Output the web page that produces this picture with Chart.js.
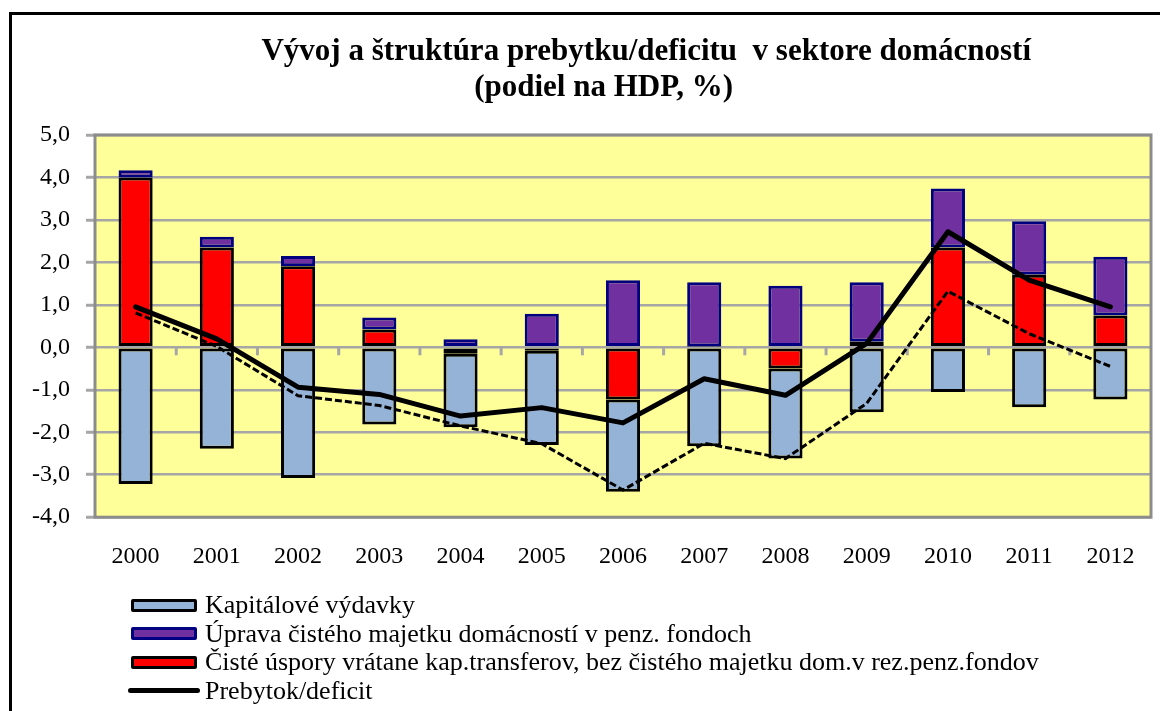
<!DOCTYPE html>
<html lang="sk">
<head>
<meta charset="utf-8">
<title>Vývoj a štruktúra prebytku/deficitu v sektore domácností</title>
<script src="https://cdn.jsdelivr.net/npm/chart.js@4/dist/chart.umd.min.js"></script>
<style>
    html, body {
        margin: 0;
        padding: 0;
        background: #ffffff;
        overflow: hidden;
    }
    .frame {
        position: absolute;
        left: 9px;
        top: 12px;
        width: 1200px;
        height: 800px;
        border: 3px solid #000000;
    }
    .chart-box {
        position: absolute;
        left: 0;
        top: 0;
        width: 1160px;
        height: 711px;
    }
    #legend {
        position: absolute;
        left: 128px;
        top: 591px;
        margin: 0;
        padding: 0;
        list-style: none;
        font-family: 'Liberation Serif', 'Times New Roman', serif;
        font-size: 26px;
        color: #000000;
    }
    #legend li {
        display: flex;
        align-items: center;
        height: 28.5px;
        white-space: nowrap;
    }
    #legend .key {
        display: inline-block;
        box-sizing: border-box;
        margin-right: 5px;
    }
    #legend .key.bar {
        width: 66px;
        height: 13px;
        margin-left: 3px;
        margin-right: 8px;
        border: 3px solid #000000;
        border-radius: 2px;
    }
    #legend .key.line {
        width: 72px;
        height: 5px;
        border-radius: 3px;
        margin-right: 5px;
    }
</style>
</head>
<body>
<div class="frame"></div>
<div class="chart-box"><canvas id="householdChart"></canvas></div>
<ul id="legend"></ul>
<script>
// Data (share of GDP, %)
const years = ['2000', '2001', '2002', '2003', '2004', '2005', '2006', '2007', '2008', '2009', '2010', '2011', '2012'];
const netSavings = [4.0, 2.35, 1.91, 0.42, -0.15, -0.08, -1.23, 0.02, -0.5, 0.13, 2.35, 1.71, 0.75];
const capitalSpending = [-3.22, -2.39, -3.08, -1.82, -1.73, -2.22, -2.17, -2.33, -2.12, -1.53, -1.05, -1.41, -1.23];
const pensionAdjustment = [0.17, 0.25, 0.24, 0.28, 0.19, 0.79, 1.58, 1.51, 1.45, 1.4, 1.39, 1.26, 1.38];
const surplusDeficit = [0.95, 0.2, -0.94, -1.11, -1.62, -1.42, -1.78, -0.74, -1.13, 0.09, 2.72, 1.58, 0.95];
const surplusDashed = [0.81, 0.02, -1.14, -1.37, -1.85, -2.27, -3.36, -2.26, -2.62, -1.32, 1.32, 0.32, -0.45];

const yMin = -4;
const yMax = 5;

// legend shows datasets in this order (dashed line has no entry)
const legendOrder = [1, 2, 0, 3];

const serif = "'Liberation Serif', 'Times New Roman', serif";
const gridGray = '#a6a6a6';

function formatTick(value) {
    return value.toFixed(1).replace('.', ',');
}

// yellow plot area, gray frame and the little category ticks on the zero line
const plotArea = {
    id: 'plotArea',
    beforeDraw(chart) {
        const { ctx, chartArea } = chart;
        ctx.save();
        ctx.fillStyle = '#ffff99';
        ctx.fillRect(chartArea.left, chartArea.top, chartArea.width, chartArea.height);
        ctx.restore();
    },
    beforeDatasetsDraw(chart) {
        const { ctx, chartArea, scales } = chart;
        const x = scales.x;
        const zeroY = scales.y.getPixelForValue(0);
        ctx.save();
        ctx.strokeStyle = gridGray;
        ctx.lineWidth = 3;
        for (let i = 1; i < years.length; i++) {
            const mid = (x.getPixelForTick(i - 1) + x.getPixelForTick(i)) / 2;
            ctx.beginPath();
            ctx.moveTo(mid, zeroY);
            ctx.lineTo(mid, zeroY + 8);
            ctx.stroke();
        }
        ctx.strokeStyle = '#8c8c8c';
        ctx.lineWidth = 3;
        ctx.strokeRect(chartArea.left, chartArea.top, chartArea.width, chartArea.height);
        ctx.restore();
    }
};

// one legend entry per line, built from the chart's own labels
const htmlLegend = {
    id: 'htmlLegend',
    afterUpdate(chart) {
        const list = document.getElementById('legend');
        list.innerHTML = '';
        const items = chart.options.plugins.legend.labels.generateLabels(chart)
            .filter(item => legendOrder.includes(item.datasetIndex))
            .sort((a, b) => legendOrder.indexOf(a.datasetIndex) - legendOrder.indexOf(b.datasetIndex));

        items.forEach(item => {
            const dataset = chart.data.datasets[item.datasetIndex];
            const li = document.createElement('li');
            const key = document.createElement('span');
            if (dataset.type === 'line') {
                key.className = 'key line';
                key.style.background = dataset.borderColor;
            } else {
                key.className = 'key bar';
                key.style.background = item.fillStyle;
                key.style.borderColor = item.strokeStyle;
            }
            const text = document.createElement('span');
            text.textContent = item.text;
            li.appendChild(key);
            li.appendChild(text);
            list.appendChild(li);
        });
    }
};

const ctx = document.getElementById('householdChart').getContext('2d');
new Chart(ctx, {
    data: {
        labels: years,
        datasets: [
            {
                type: 'bar',
                label: 'Čisté úspory vrátane kap.transferov, bez čistého majetku dom.v rez.penz.fondov',
                data: netSavings,
                backgroundColor: '#ff0000',
                borderColor: '#000000',
                stack: 'bars',
                order: 2
            },
            {
                type: 'bar',
                label: 'Kapitálové výdavky',
                data: capitalSpending,
                backgroundColor: '#95b3d7',
                borderColor: '#000000',
                stack: 'bars',
                order: 2
            },
            {
                type: 'bar',
                label: 'Úprava čistého majetku domácností v penz. fondoch',
                data: pensionAdjustment,
                backgroundColor: '#7030a0',
                borderColor: '#000080',
                stack: 'bars',
                order: 2
            },
            {
                type: 'line',
                label: 'Prebytok/deficit',
                data: surplusDeficit,
                borderColor: '#000000',
                backgroundColor: '#000000',
                borderWidth: 5,
                borderJoinStyle: 'round',
                borderCapStyle: 'round',
                pointRadius: 0,
                tension: 0,
                stack: 'line1',
                order: 0
            },
            {
                type: 'line',
                label: '',
                data: surplusDashed,
                borderColor: '#000000',
                backgroundColor: '#000000',
                borderWidth: 3,
                borderDash: [7, 3],
                pointRadius: 0,
                tension: 0,
                stack: 'line2',
                order: 1
            }
        ]
    },
    options: {
        responsive: true,
        maintainAspectRatio: false,
        animation: false,
        layout: {
            padding: { left: 16, right: 9, top: 0, bottom: 115 }
        },
        datasets: {
            bar: {
                categoryPercentage: 0.8,
                barPercentage: 0.525,
                borderWidth: 3,
                borderSkipped: false
            }
        },
        plugins: {
            legend: { display: false },
            tooltip: { enabled: false },
            title: {
                display: true,
                fullSize: false,
                text: [
                    '\u00a0\u00a0\u00a0\u00a0\u00a0\u00a0Vývoj a štruktúra prebytku/deficitu  v sektore domácností',
                    '(podiel na HDP, %)\u00a0\u00a0\u00a0\u00a0\u00a0'
                ],
                color: '#000000',
                font: { family: serif, size: 31, weight: 'bold', lineHeight: 1.16 },
                padding: { top: 34, bottom: 29 }
            }
        },
        scales: {
            x: {
                stacked: true,
                offset: true,
                border: { display: false },
                grid: { display: false, drawTicks: false },
                ticks: {
                    color: '#000000',
                    padding: 25,
                    font: { family: serif, size: 24 }
                }
            },
            y: {
                stacked: true,
                min: yMin,
                max: yMax,
                border: { display: false },
                grid: {
                    color: gridGray,
                    lineWidth: 2.5,
                    tickLength: 9,
                    tickColor: gridGray,
                    tickWidth: 3
                },
                ticks: {
                    stepSize: 1,
                    color: '#000000',
                    padding: 16,
                    font: { family: serif, size: 24 },
                    callback: value => formatTick(value)
                }
            }
        }
    },
    plugins: [plotArea, htmlLegend]
});
</script>
</body>
</html>
